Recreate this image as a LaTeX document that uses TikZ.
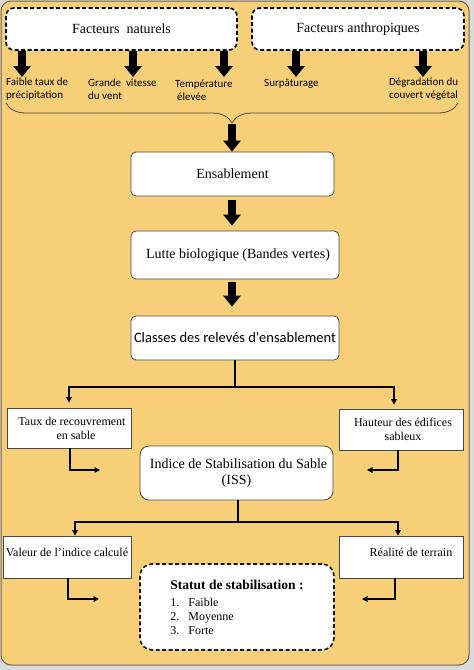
\documentclass[tikz,border=0pt]{standalone}
\usepackage{fontspec}
\setmainfont{Liberation Serif}
\newfontfamily\calfont{Carlito}
\usetikzlibrary{arrows.meta,decorations.pathreplacing,calc}
\definecolor{bgsand}{HTML}{F7CF79}
\definecolor{framebr}{HTML}{6F624C}
\definecolor{outgray}{HTML}{DADADA}
\definecolor{boxline}{HTML}{4A4A4A}
\tikzset{
  dashbox/.style={draw=black, line width=1.6pt, dash pattern=on 4pt off 2.5pt, fill=white,
    rounded corners=8pt, inner sep=0pt, font=\fontsize{14}{16}\selectfont},
  roundbox/.style={draw=boxline, line width=0.8pt, fill=white, rounded corners=5pt,
    inner sep=0pt, align=center, font=\fontsize{14}{16}\selectfont},
  plainbox/.style={draw=boxline, line width=0.8pt, fill=white, inner sep=0pt,
    align=center, font=\fontsize{12}{14}\selectfont},
  fatarrow/.style={line width=8pt, draw=black, -{Triangle[width=17pt,length=11pt]}},
  thinarrow/.style={line width=1.1pt, draw=black, -{Triangle[width=5.5pt,length=5.5pt]}},
  thinline/.style={line width=1.1pt, draw=black},
  smalllabel/.style={font=\calfont\fontsize{11}{13.5}\selectfont, align=left,
    anchor=north west, inner sep=0pt}
}
\begin{document}
\begin{tikzpicture}[x=1pt,y=-1pt]
\fill[outgray] (0,0) rectangle (474,670);
\useasboundingbox (0,0) rectangle (474,670);
\draw[framebr, fill=bgsand, line width=1pt, rounded corners=10pt] (1,1) rectangle (469,665);

% top dashed boxes
\node[dashbox, minimum width=231pt, minimum height=42pt] (fn) at (121.5,29) {Facteurs~~naturels};
\node[dashbox, minimum width=212pt, minimum height=42pt] (fa) at (358,29) {Facteurs anthropiques};

% labels
\node[smalllabel] (l1) at (6,77.5) {Faible taux de\\précipitation};
\node[smalllabel] (l2) at (88,78.5) {Grande~~vitesse\\du vent};
\node[smalllabel] (l3) at (175,79.5) {Température\\\hspace{2pt}élevée};
\node[smalllabel] (l4) at (264,78.5) {Surpâturage};
\node[smalllabel] (l5) at (389,77.5) {Dégradation du\\couvert végétal};

\coordinate (t1) at (22,77);
\coordinate (t2) at (133,77);
\coordinate (t3) at (224,77);
\coordinate (t4) at (296,77);
\coordinate (t5) at (423,77);
\draw[fatarrow] (fn.south -| t1) -- (t1);
\draw[fatarrow] (fn.south -| t2) -- (t2);
\draw[fatarrow] (fn.south -| t3) -- (t3);
\draw[fatarrow] (fa.south -| t4) -- (t4);
\draw[fatarrow] (fa.south -| t5) -- (t5);

% brace
\coordinate (bl) at (6,103);
\coordinate (br) at (458,103);
\draw[decorate, decoration={brace, mirror, amplitude=20pt}, line width=0.8pt, draw=boxline] (bl) -- (br);
\coordinate (bt) at (232,124);

% main chain
\node[roundbox, minimum width=203pt, minimum height=44pt] (ens) at (232.5,174) {Ensablement};
\node[roundbox, minimum width=208pt, minimum height=48pt] (lut) at (235,255) {\hspace{6pt}Lutte biologique (Bandes vertes)};
\node[roundbox, minimum width=208pt, minimum height=44pt, font=\calfont\fontsize{14.5}{16}\selectfont] (cls) at (235,338) {Classes des relevés d'ensablement};

\draw[fatarrow] (bt) -- (bt |- ens.north);
\draw[fatarrow, shorten <=4pt, shorten >=5pt] (bt |- ens.south) -- (bt |- lut.north);
\draw[fatarrow, shorten <=3pt, shorten >=9pt] (bt |- lut.south) -- (bt |- cls.north);

% first split
\node[plainbox, minimum width=124pt, minimum height=40pt] (taux) at (69,428) {\hspace{6pt}Taux de recouvrement\\\hspace{14pt}en sable};
\node[plainbox, minimum width=124pt, minimum height=41pt] (haut) at (401,429.5) {\hspace{4pt}Hauteur des édifices\\\hspace{4pt}sableux};
\coordinate (j1) at (235,387);
\draw[thinline] (cls.south) -- (j1);
\draw[thinarrow, shorten >=5pt] (j1) -| (taux.north);
\draw[thinarrow, shorten >=4pt] (j1) -| ([xshift=-7pt]haut.north);

% ISS
\node[roundbox, rounded corners=9pt, minimum width=193pt, minimum height=54pt] (iss) at (236.5,473) {\hspace{4pt}Indice de Stabilisation du Sable\\(ISS)};
\coordinate (c1) at (100,470);
\coordinate (c2) at (367,470);
\draw[thinarrow] ([xshift=1pt]taux.south) |- (c1);
\draw[thinarrow] ([xshift=-3pt]haut.south) |- (c2);

% second split
\node[plainbox, minimum width=128pt, minimum height=42pt, text depth=10pt] (val) at (67,557) {Valeur de l’indice calculé};
\node[plainbox, minimum width=124pt, minimum height=42pt, text depth=10pt] (real) at (401,557) {\hspace{20pt}Réalité de terrain};
\coordinate (j2) at (238,522);
\draw[thinline] ([xshift=1.5pt]iss.south) -- (j2);
\draw[thinarrow] (j2) -| ([xshift=8pt]val.north);
\draw[thinarrow] (j2) -| ([xshift=-3pt]real.north);

% status
\node[dashbox, draw=black!85!brown, rounded corners=12pt, minimum width=194pt, minimum height=86pt, align=left,
  font=\fontsize{12}{14}\selectfont] (stat) at (237,607)
  {{\fontsize{13.5}{16}\selectfont\bfseries Statut de stabilisation :}\\[3pt]
   \makebox[18pt][l]{1.}Faible\\
   \makebox[18pt][l]{2.}Moyenne\\
   \makebox[18pt][l]{3.}Forte};
\coordinate (c3) at (99,599);
\coordinate (c4) at (362,599);
\draw[thinarrow] ([xshift=1pt]val.south) |- (c3);
\draw[thinarrow] ([xshift=-6pt]real.south) |- (c4);
\end{tikzpicture}
\end{document}
